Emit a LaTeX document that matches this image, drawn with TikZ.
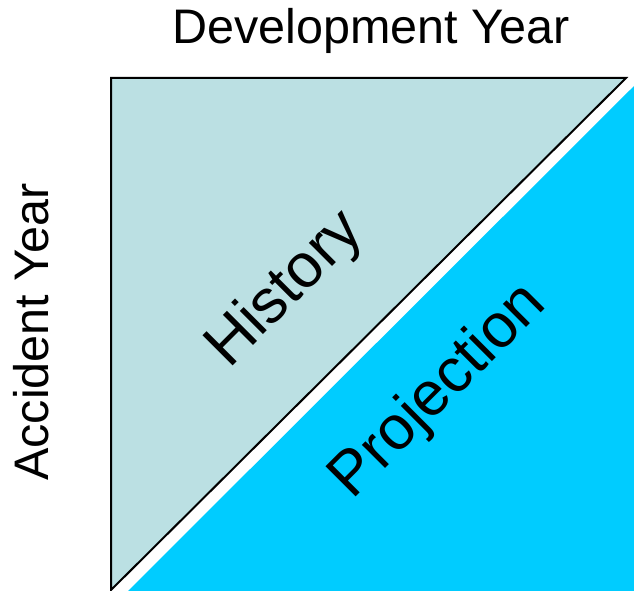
\documentclass[tikz,border=0pt]{standalone}
\usepackage{fontspec}
\setmainfont{Liberation Sans}
\usetikzlibrary{positioning}

\definecolor{histfill}{RGB}{187,224,227}
\definecolor{projfill}{RGB}{0,204,255}

\begin{document}
\begin{tikzpicture}[x=1pt,y=-1pt,every node/.style={inner sep=0pt,font=\fontsize{48.5}{52}\selectfont},
    diag/.style={rotate=45,font=\fontsize{62}{66}\selectfont}]
      \useasboundingbox (0,0) rectangle (634,591);
      \fill[projfill] (634,86) -- (634,591) -- (128,591) -- cycle;
      \draw[fill=histfill,line width=2pt] (111,78) -- (626,78) -- (111,590) -- cycle;
      \node[anchor=base] (dev) at (371,44) {Development Year};
      \node[anchor=base,rotate=90] (acc) at (48,332) {Accident Year};
      \node[diag] (hist) at (286,290) {History};
      \node[diag] (proj) at (439,392) {Projection};
    \end{tikzpicture}
\end{document}
